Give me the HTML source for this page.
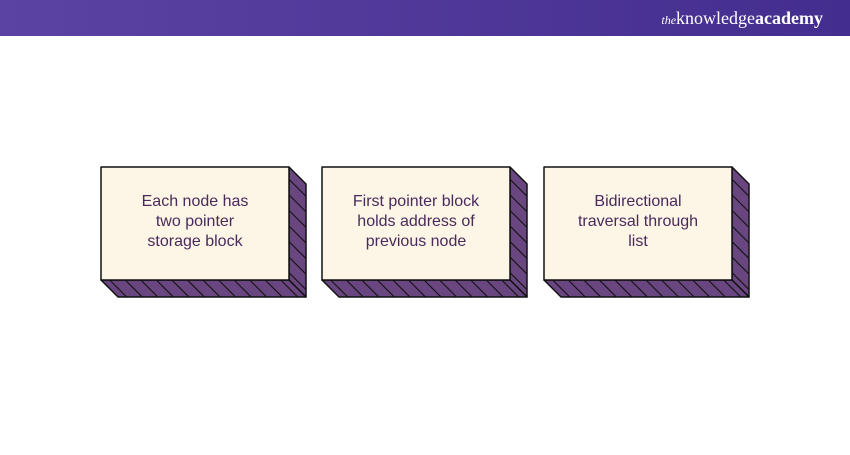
<!DOCTYPE html>
<html><head><style>
body{margin:0;width:850px;height:450px;background:#fff;overflow:hidden}
.t{font-family:"Liberation Sans",sans-serif}
.logo{font-family:"Liberation Serif",serif}
</style></head><body>
<svg width="850" height="450" xmlns="http://www.w3.org/2000/svg">
<defs>
<linearGradient id="hg" x1="0" x2="1"><stop offset="0" stop-color="#5b43a3"/><stop offset="1" stop-color="#432d8e"/></linearGradient>
<pattern id="hatch" width="11" height="11" patternUnits="userSpaceOnUse" patternTransform="rotate(-45)">
<rect width="11" height="11" fill="#6a4680"/><line x1="0" y1="0" x2="0" y2="11" stroke="#111" stroke-width="2.2"/>
</pattern>
</defs>
<rect width="850" height="36" fill="url(#hg)"/>
<text class="logo" x="823" y="24" text-anchor="end" font-size="18" fill="#fff"><tspan font-style="italic" font-size="12">the</tspan>knowledge<tspan font-weight="bold">academy</tspan></text>
<g stroke="#111" stroke-width="1.5" stroke-linejoin="round">
<polygon points="289,167 306,184 306,297 289,280" fill="url(#hatch)"/>
<polygon points="101,280 289,280 306,297 118,297" fill="url(#hatch)"/>
<rect x="101" y="167" width="188" height="113" fill="#fdf5e6"/>
</g>
<g transform="translate(221,0)" stroke="#111" stroke-width="1.5" stroke-linejoin="round">
<polygon points="289,167 306,184 306,297 289,280" fill="url(#hatch)"/>
<polygon points="101,280 289,280 306,297 118,297" fill="url(#hatch)"/>
<rect x="101" y="167" width="188" height="113" fill="#fdf5e6"/>
</g>
<g transform="translate(443,0)" stroke="#111" stroke-width="1.5" stroke-linejoin="round">
<polygon points="289,167 306,184 306,297 289,280" fill="url(#hatch)"/>
<polygon points="101,280 289,280 306,297 118,297" fill="url(#hatch)"/>
<rect x="101" y="167" width="188" height="113" fill="#fdf5e6"/>
</g>
<g class="t" font-size="16" fill="#4a2a5c" text-anchor="middle">
<text x="195" y="206">Each node has</text><text x="195" y="226">two pointer</text><text x="195" y="246">storage block</text>
<text x="416" y="206">First pointer block</text><text x="416" y="226">holds address of</text><text x="416" y="246">previous node</text>
<text x="638" y="206">Bidirectional</text><text x="638" y="226">traversal through</text><text x="638" y="246">list</text>
</g>
</svg>
</body></html>
